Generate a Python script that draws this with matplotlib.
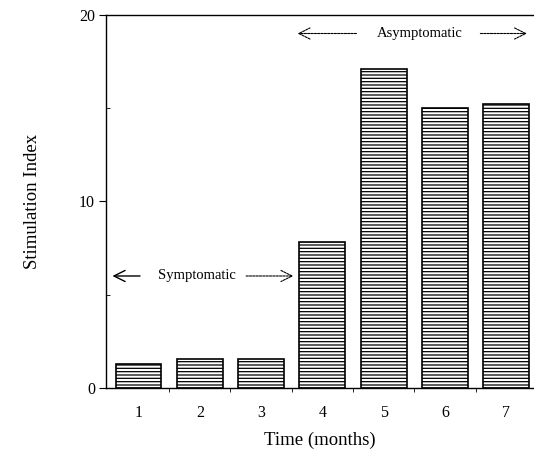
import numpy as np
import matplotlib.pyplot as plt
from matplotlib.ticker import FixedLocator

plt.rcParams['font.family'] = ['Liberation Serif', 'DejaVu Serif']
plt.rcParams['hatch.linewidth'] = 0.9

months = [1, 2, 3, 4, 5, 6, 7]
month_labels = ['1', '2', '3', '4', '5', '6', '7']
stim_index = [1.3, 1.55, 1.55, 7.8, 17.1, 15.0, 15.2]

fig = plt.figure(figsize=(5.34, 4.5), dpi=100)
ax = fig.add_axes([0.1985, 0.138, 0.8015, 0.829])

ax.bar(months, stim_index, width=0.75, color='white', edgecolor='black',
       linewidth=1.2, hatch='-----')

ax.set_xlim(0.47, 7.45)
ax.set_ylim(0, 20)

ax.spines['right'].set_visible(False)
for s in ['left', 'top', 'bottom']:
    ax.spines[s].set_linewidth(1.0)

ax.set_xticks(months)
ax.set_xticklabels(month_labels, fontsize=11.5)
ax.tick_params(axis='x', which='major', length=0, pad=12)
ax.xaxis.set_minor_locator(FixedLocator([1.5, 2.5, 3.5, 4.5, 5.5, 6.5]))
ax.tick_params(axis='x', which='minor', length=3, direction='out')

ax.set_yticks([0, 10, 20])
ax.tick_params(axis='y', which='major', length=5, direction='out', labelsize=11.5, pad=3)
ax.yaxis.set_minor_locator(FixedLocator([5, 15]))
ax.tick_params(axis='y', which='minor', length=3, direction='in')

ax.set_ylabel('Stimulation Index', fontsize=13.5, labelpad=27)
ax.set_xlabel('Time (months)', fontsize=13.5, labelpad=8)

arrow_solid = dict(arrowstyle='->', lw=1.0, color='black', mutation_scale=20)
arrow_dash = dict(arrowstyle='->', lw=0.8, color='black', ls=(0, (2, 1)),
                  mutation_scale=20)

# phase annotations
ax.annotate('', xy=(0.53, 6.0), xytext=(1.07, 6.0), arrowprops=arrow_solid)
ax.text(1.95, 6.0, 'Symptomatic', fontsize=10.5, ha='center', va='center')
ax.annotate('', xy=(3.57, 6.0), xytext=(2.71, 6.0), arrowprops=arrow_dash)

ax.annotate('', xy=(3.55, 19.0), xytext=(4.6, 19.0), arrowprops=arrow_dash)
ax.text(5.58, 19.0, 'Asymptomatic', fontsize=10.5, ha='center', va='center')
ax.annotate('', xy=(7.38, 19.0), xytext=(6.53, 19.0), arrowprops=arrow_dash)

fig.savefig('out.png', dpi=100)
